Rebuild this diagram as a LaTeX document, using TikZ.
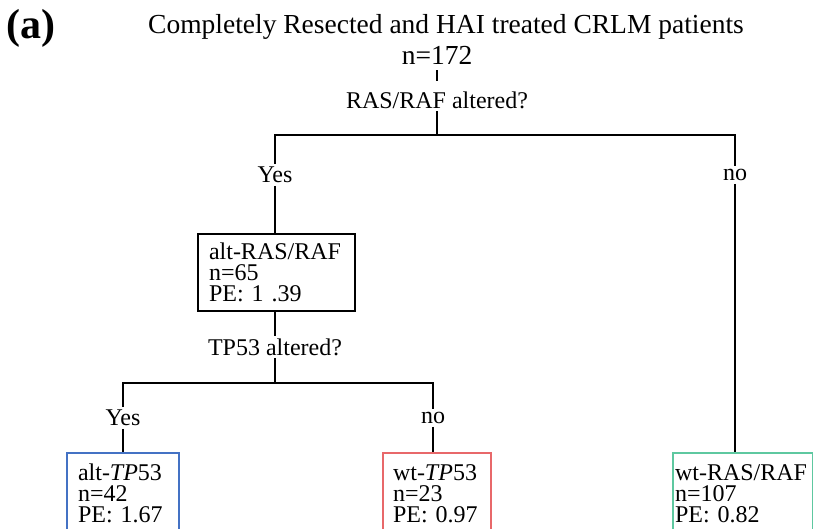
\documentclass[tikz,border=0pt]{standalone}
\usepackage{fontspec}
\setmainfont{Liberation Serif}
\definecolor{altblue}{RGB}{68,114,196}
\definecolor{wtred}{RGB}{232,104,106}
\definecolor{wtgreen}{RGB}{94,200,160}
\begin{document}
\begin{tikzpicture}[x=0.5pt, y=-0.5pt, line width=1pt,
lbl/.style={font=\fontsize{12}{12}\selectfont, inner sep=1pt},
grp/.style={draw, anchor=north west, align=left, inner xsep=5.5pt, inner ysep=4.5pt,
  text=black, font=\fontsize{12}{10.5}\selectfont},
leaf/.style={grp, text height=9pt, text depth=32pt}]
\useasboundingbox (0,0) rectangle (813,529);
\clip (0,0) rectangle (813,529);
\node[font=\fontsize{21}{21}\selectfont\bfseries, inner sep=0pt] (tag) at (31,28) {(a)};
\node[font=\fontsize{13.75}{14}\selectfont] (title) at (446,27) {Completely Resected and HAI treated CRLM patients};
\node[font=\fontsize{13.75}{14}\selectfont, inner sep=1pt] (root) at (437,55) {n=172};
\node[lbl] (q0) at (437,100) {RAS/RAF altered?};
\coordinate (bar0) at (437,135);
\node[lbl] (yes0) at (275,175) {Yes};
\node[lbl] (no0) at (735,175) {no};
\node[grp, text width=67.5pt] (altras) at (197,233) {alt-RAS/RAF\\n=65\\PE: 1 .39};
\node[lbl] (q1) at (275,347) {TP53 altered?};
\coordinate (bar1) at (275,383);
\node[lbl] (yes1) at (123,418) {Yes};
\node[lbl] (no1) at (433,418) {no};
\node[leaf, draw=altblue, text width=45pt] (alttp) at (66,452) {alt-\textit{TP}53\\n=42\\PE: 1.67};
\node[leaf, draw=wtred, inner xsep=5pt, text width=44pt] (wttp) at (382,452) {wt-\textit{TP}53\\n=23\\PE: 0.97};
\node[leaf, draw=wtgreen, inner xsep=1pt, text width=68pt] (wtras) at (672,452) {wt-RAS/RAF\\n=107\\PE: 0.82};
\draw[shorten <=1.5pt, shorten >=4pt] (root) -- (q0);
\draw (q0) -- (bar0);
\draw (yes0) |- (bar0) -| (no0);
\draw (yes0) -- (yes0 |- altras.north);
\draw (no0) -- (no0 |- wtras.north);
\draw (altras.south -| q1) -- (q1);
\draw (q1) -- (bar1);
\draw (yes1) |- (bar1) -| (no1);
\draw (yes1) -- (yes1 |- alttp.north);
\draw (no1) -- (no1 |- wttp.north);
\end{tikzpicture}
\end{document}
